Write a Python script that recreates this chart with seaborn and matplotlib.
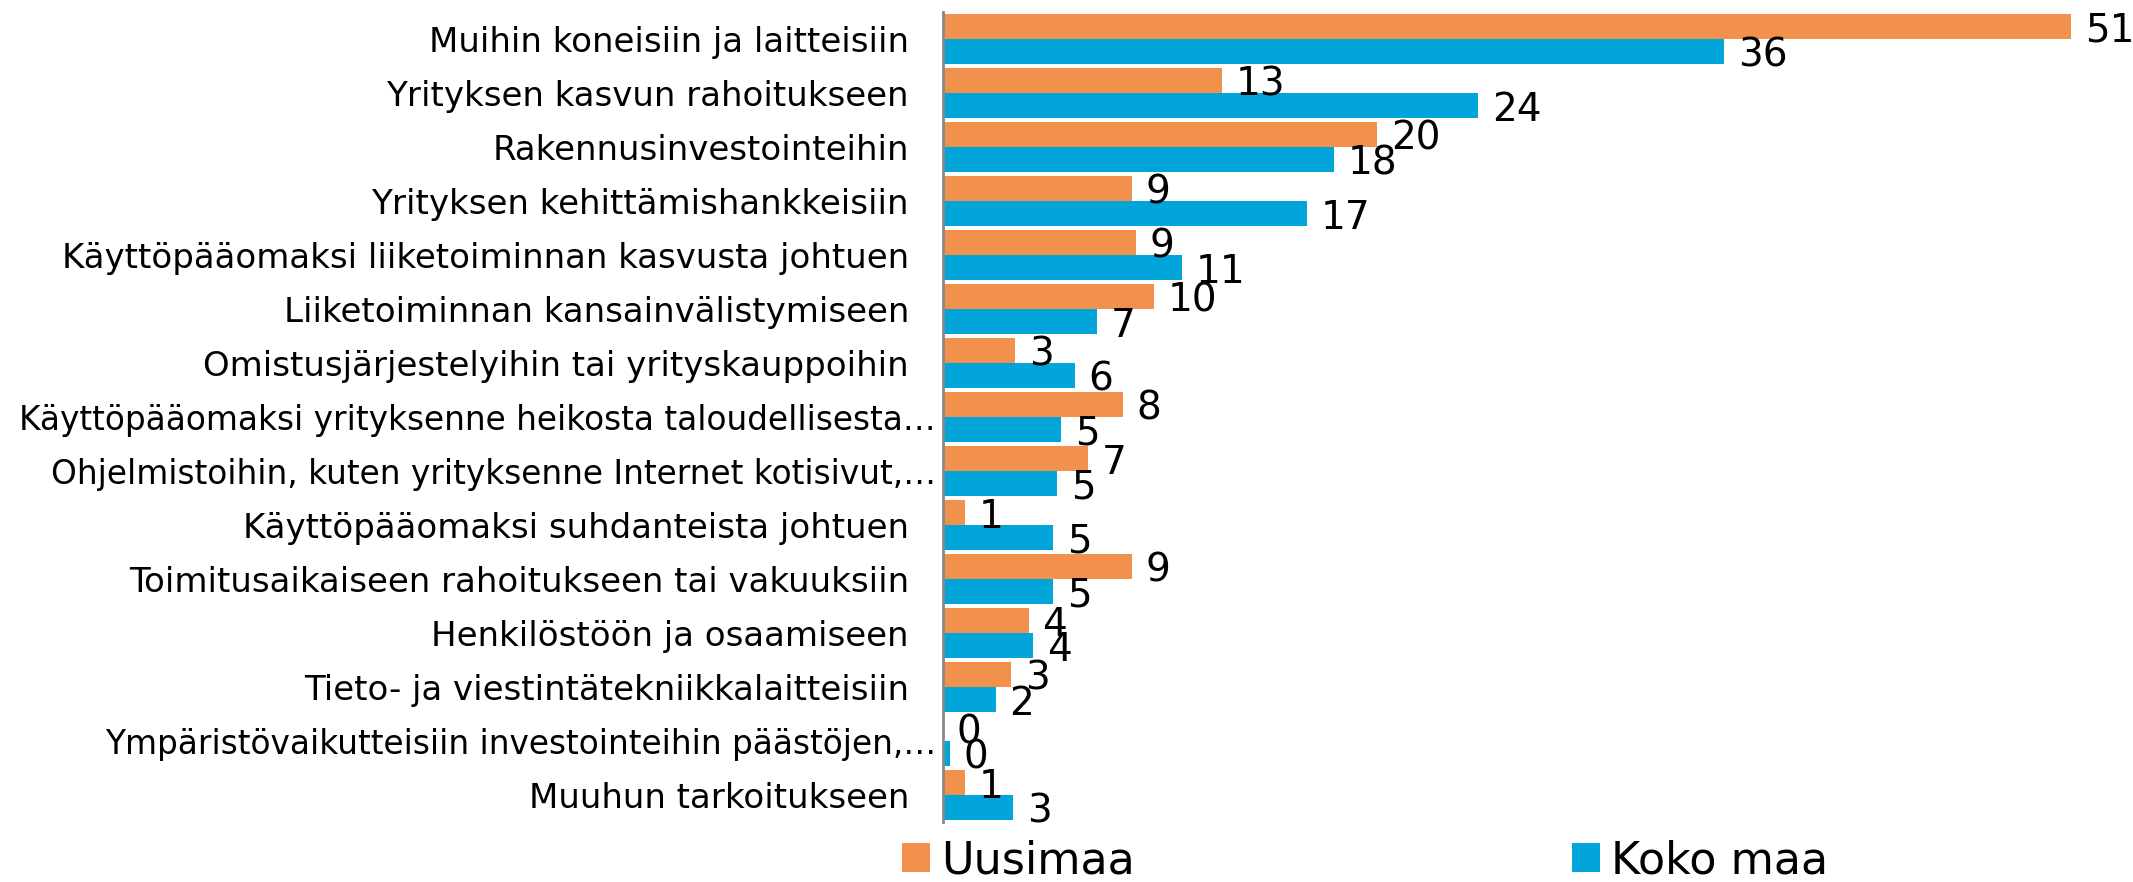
import matplotlib
matplotlib.use("Agg")
import matplotlib.pyplot as plt
import seaborn as sns
import pandas as pd

categories = [
    "Muihin koneisiin ja laitteisiin",
    "Yrityksen kasvun rahoitukseen",
    "Rakennusinvestointeihin",
    "Yrityksen kehittämishankkeisiin",
    "Käyttöpääomaksi liiketoiminnan kasvusta johtuen",
    "Liiketoiminnan kansainvälistymiseen",
    "Omistusjärjestelyihin tai yrityskauppoihin",
    "Käyttöpääomaksi yrityksenne heikosta taloudellisesta…",
    "Ohjelmistoihin, kuten yrityksenne Internet kotisivut,…",
    "Käyttöpääomaksi suhdanteista johtuen",
    "Toimitusaikaiseen rahoitukseen tai vakuuksiin",
    "Henkilöstöön ja osaamiseen",
    "Tieto- ja viestintätekniikkalaitteisiin",
    "Ympäristövaikutteisiin investointeihin päästöjen,…",
    "Muuhun tarkoitukseen",
]
series_names = ["Uusimaa", "Koko maa"]
uusimaa = [51.4, 12.7, 19.8, 8.6, 8.8, 9.6, 3.3, 8.2, 6.6, 1.0, 8.6, 3.9, 3.1, 0.0, 1.0]
koko_maa = [35.6, 24.4, 17.8, 16.6, 10.9, 7.0, 6.0, 5.4, 5.2, 5.0, 5.0, 4.1, 2.4, 0.3, 3.2]
colors = ["#F1914B", "#02A5DA"]

df = pd.DataFrame({
    "cat": categories * 2,
    "value": uusimaa + koko_maa,
    "series": [series_names[0]] * len(categories) + [series_names[1]] * len(categories),
})

sns.set_theme(style="white")
plt.rcParams["font.family"] = ["DejaVu Sans"]
plt.rcParams["text.color"] = "black"

W, H = 2133, 882
fig = plt.figure(figsize=(W / 100, H / 100), dpi=100)
ax = fig.add_axes([943 / W, 60 / H, 1141 / W, 810 / H])

sns.barplot(data=df, x="value", y="cat", hue="series", hue_order=series_names,
            order=categories, palette=colors, width=0.92, gap=0, dodge=True,
            saturation=1, legend=True, ax=ax, edgecolor="none", linewidth=0)

ax.set_xlim(0, 52)
ax.set_ylim(len(categories) - 0.5, -0.5)
ax.set_xlabel("")
ax.set_ylabel("")
ax.set_xticks([])
for s in ["top", "right", "bottom"]:
    ax.spines[s].set_visible(False)
ax.spines["left"].set_color("#898989")
ax.spines["left"].set_linewidth(2)

ax.tick_params(axis="y", length=0, labelsize=24.5, labelcolor="black")
for i, tick in enumerate(ax.yaxis.get_major_ticks()):
    lab = categories[i]
    if lab.endswith("…"):
        tick.set_pad(5)
        tick.label1.set_fontsize(23.6)
    else:
        tick.set_pad(24.5)

for cont in ax.containers:
    texts = ax.bar_label(cont, fmt="%.0f", padding=10, fontsize=28, color="black")
    for t in texts:
        x, y = t.xyann
        t.xyann = (x, -3)

# legend: two separate entries positioned like the reference
handles, labels = ax.get_legend_handles_labels()
ax.get_legend().remove()
common = dict(frameon=False, fontsize=32, handlelength=0.62, handleheight=0.62,
              handletextpad=0.25, borderpad=0, borderaxespad=0, loc="center left",
              labelcolor="black")
leg1 = fig.legend([handles[0]], [labels[0]], bbox_to_anchor=(902 / W, 21 / H), **common)
leg2 = fig.legend([handles[1]], [labels[1]], bbox_to_anchor=(1572 / W, 21 / H), **common)

fig.savefig("out.png", dpi=100)
